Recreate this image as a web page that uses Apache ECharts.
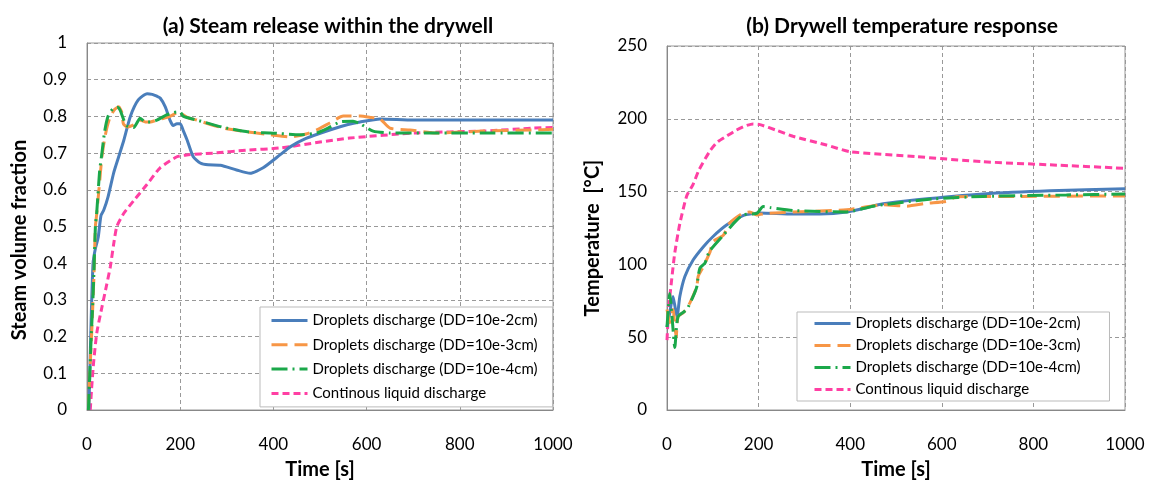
<!DOCTYPE html>
<html><head><meta charset="utf-8">
<script src="https://cdn.jsdelivr.net/npm/echarts@6/dist/echarts.min.js"></script>
<style>html,body{margin:0;padding:0;background:#fff}#c{width:1154px;height:481px}</style>
</head><body><div id="c"></div>
<script>
var names = ['Droplets discharge (DD=10e-2cm)','Droplets discharge (DD=10e-3cm)','Droplets discharge (DD=10e-4cm)','Continous liquid discharge'];
var xTicks = [0,200,400,600,800,1000];
// (a) steam volume fraction
var aBlue = [[4,0],[6,0.1],[9,0.25],[13,0.4],[18,0.44],[24,0.47],[30,0.53],[36,0.545],[45,0.58],[57,0.645],[68,0.69],[79,0.735],[93,0.8],[110,0.845],[129,0.862],[140,0.86],[150,0.855],[157,0.85],[168,0.826],[178,0.79],[185,0.775],[193,0.78],[200,0.78],[207,0.76],[215,0.735],[228,0.69],[243,0.673],[260,0.668],[286,0.667],[321,0.654],[350,0.645],[378,0.66],[414,0.695],[436,0.717],[470,0.74],[521,0.763],[560,0.778],[586,0.785],[629,0.793],[700,0.79],[800,0.79],[900,0.79],[1000,0.79]];
var aOrange = [[3,0],[6,0.1],[9,0.18],[12,0.27],[15,0.37],[18,0.5],[21,0.536],[27,0.62],[32,0.69],[38,0.74],[43,0.771],[50,0.8],[60,0.82],[68,0.826],[75,0.81],[78,0.78],[86,0.771],[100,0.777],[114,0.79],[125,0.785],[136,0.785],[150,0.79],[165,0.795],[178,0.8],[190,0.808],[200,0.812],[207,0.804],[220,0.795],[236,0.79],[260,0.78],[293,0.768],[343,0.758],[393,0.75],[436,0.744],[470,0.752],[493,0.763],[521,0.782],[550,0.801],[586,0.801],[610,0.797],[629,0.793],[650,0.768],[693,0.763],[750,0.755],[850,0.76],[957,0.763],[1000,0.765]];
var aGreen = [[3,0],[6,0.1],[9,0.2],[12,0.28],[15,0.38],[18,0.5],[21,0.54],[27,0.65],[32,0.7],[38,0.76],[45,0.8],[55,0.82],[65,0.825],[71,0.817],[79,0.79],[86,0.774],[100,0.77],[114,0.795],[125,0.785],[136,0.785],[150,0.79],[171,0.804],[193,0.812],[200,0.812],[207,0.8],[236,0.79],[293,0.77],[350,0.757],[393,0.755],[457,0.75],[493,0.755],[520,0.77],[543,0.785],[571,0.787],[586,0.78],[614,0.76],[650,0.755],[750,0.755],[850,0.755],[1000,0.755]];
var aPink = [[7,0],[10,0.06],[14,0.127],[21,0.21],[32,0.28],[42,0.34],[50,0.39],[57,0.45],[64,0.5],[79,0.536],[100,0.57],[129,0.615],[157,0.66],[193,0.69],[214,0.695],[271,0.7],[343,0.708],[414,0.714],[500,0.73],[564,0.741],[707,0.755],[850,0.76],[957,0.768],[1000,0.77]];
// (b) drywell temperature
var bBlue = [[0,57],[5,65],[13,78],[18,70],[22,64],[28,78],[39,91.7],[57,103],[79,112],[100,119],[130,127],[166,133.5],[203,135.3],[275,134.6],[334,134.6],[392,136],[472,141.6],[545,144.4],[690,148.4],[836,150.6],[1000,151.9]];
var bOrange = [[0,69],[6,60],[13,69],[20,50],[24,64],[36,67],[50,73.6],[65,84.6],[68,91.7],[79,98.3],[94,108.6],[100,115.5],[123,120],[137,128.4],[166,135.3],[181,136],[196,134],[218,135],[275,136],[392,137.5],[472,141],[523,140],[567,142],[610,143.3],[632,146.4],[763,146.7],[981,147],[1000,147]];
var bGreen = [[0,57],[6,80],[12,60],[17,43],[24,64],[43,69],[57,78],[65,84.6],[68,91.7],[72,97.5],[83,101],[92,108.6],[123,120],[145,128],[166,134],[196,135],[210,139.7],[225,139],[275,137],[392,136],[450,140],[581,145],[690,146.7],[872,147.7],[1000,148.4]];
var bPink = [[0,48],[4,71],[10,89],[17,108],[28,128],[43,147],[57,155],[70,165],[94,178],[110,184],[130,188],[150,192],[170,195],[188,196.5],[203,196],[240,192],[275,188],[348,182],[400,177.4],[545,174],[690,170.5],[836,168.4],[1000,166]];

var FF = 'Lato, "Open Sans", sans-serif';
var colors = ['#4a7ebb','#f79646','#1ba84a','#ff3fa3'];
var styles = ['solid',[16,7],[16,5,2,5],[7,4]];
var ZW = '\u200b';
function mk(i, data, gi){
  return {type:'line', name:names[i] + (gi ? ZW : ''), xAxisIndex:gi, yAxisIndex:gi, data:data, symbol:'none', smooth:0.2,
    z: i===2?5:(i===1?4:(i===0?3:2)),
    lineStyle:{color:colors[i], width:3, type:styles[i]}, itemStyle:{color:colors[i]}};
}
function ax(gi, min, max, interval, margin){
  return {gridIndex:gi, type:'value', min:min, max:max, interval:interval,
    axisLine:{show:true, lineStyle:{color:'#888', width:1}}, axisTick:{show:false},
    axisLabel:{fontFamily:FF, fontSize:17, color:'#000', margin:margin, formatter:function(v){return String(Math.round(v*10)/10);}},
    splitLine:{show:true, lineStyle:{color:'#999', type:[4,3], width:1}}};
}
function lg(list, left, top, gap, pad){
  return {data:list, orient:'vertical', left:left, top:top, itemWidth:36, itemHeight:14, itemGap:gap, padding:pad,
     borderColor:'#bbb', borderWidth:1, backgroundColor:'#fff', selectedMode:false,
     itemStyle:{opacity:0}, lineStyle:{width:3},
     formatter:function(n){return n.replace(ZW,'');},
     textStyle:{fontFamily:FF, fontSize:15, color:'#000'}};
}
function txt(x, y, s, rot){
  return {type:'text', x:x, y:y, rotation:rot||0, z:10,
    style:{text:s, fontFamily:FF, fontWeight:'bold', fontSize:20, fill:'#000', textAlign:'center', textVerticalAlign:'middle'}};
}
var chart = echarts.init(document.getElementById('c'), null, {renderer:'canvas'});
chart.setOption({
  animation:false,
  title:[
    {text:'(a) Steam release within the drywell', left:323, top:11, textAlign:'center', textStyle:{fontFamily:FF, fontWeight:'bold', fontSize:21, color:'#000'}},
    {text:'(b) Drywell temperature response', left:897, top:11, textAlign:'center', textStyle:{fontFamily:FF, fontWeight:'bold', fontSize:21, color:'#000'}}
  ],
  grid:[
    {left:87, right:601, top:43, bottom:71, show:true, borderColor:'#999', borderWidth:1},
    {left:667, right:29, top:46, bottom:71, show:true, borderColor:'#999', borderWidth:1}
  ],
  xAxis:[ax(0,0,1000,200,26), ax(1,0,1000,200,26)],
  yAxis:[ax(0,0,1,0.1,20), ax(1,0,250,50,20)],
  graphic:[
    txt(320, 470, 'Time [s]'), txt(896, 470, 'Time [s]'),
    txt(20, 240, 'Steam volume fraction', Math.PI/2),
    txt(593, 238, 'Temperature  [°C]', Math.PI/2)
  ],
  legend:[
    lg(names, 260, 307, 9.3, [6,15,6,10]),
    lg(names.map(function(n){return n+ZW;}), 797, 312, 7, [4,29,4,16])
  ],
  series:[mk(0,aBlue,0),mk(1,aOrange,0),mk(2,aGreen,0),mk(3,aPink,0),mk(0,bBlue,1),mk(1,bOrange,1),mk(2,bGreen,1),mk(3,bPink,1)]
});
</script></body></html>
